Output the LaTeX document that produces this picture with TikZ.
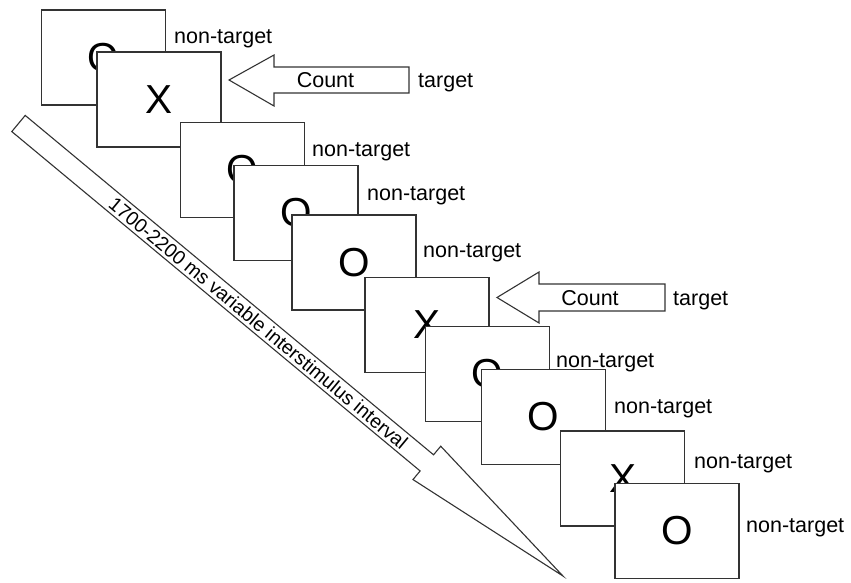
\documentclass[tikz,border=0pt]{standalone}
\usepackage{fontspec}
\setmainfont{Liberation Sans}
\begin{document}
\begin{tikzpicture}[x=1pt,y=-1pt,
  frame/.style={draw=black!80, line width=1.1pt, fill=white,
    minimum width=124pt, minimum height=95pt, inner sep=0pt,
    font=\fontsize{40.5}{44}\selectfont},
  lab/.style={anchor=base west, inner sep=0pt, font=\fontsize{21.5}{24}\selectfont},
  blockarrow/.style={draw=black!80, line width=1.1pt, fill=white, line join=miter}]
\useasboundingbox (0,0) rectangle (851,583);

% time axis arrow
\begin{scope}[shift={(18.5,123.5)}, rotate=-39.73]
  \draw[blockarrow] (0,-10.5) -- (531,-10.5) -- (531,-21.7) -- (708,0)
    -- (531,21.7) -- (531,10.5) -- (0,10.5) -- cycle;
  \node[rotate=-39.73, inner sep=0pt, font=\fontsize{19.5}{22}\selectfont] (isi) at (312,0)
    {1700-2200 ms variable interstimulus interval};
\end{scope}

% stimulus frames, each covering part of the previous one
\node[frame] (b1)  at (103.5,57.5) {O};
\node[frame] (b2)  at (159,99.5)   {X};
\node[frame] (b3)  at (242.5,170)  {O};
\node[frame] (b4)  at (296,213)    {O};
\node[frame] (b5)  at (354,262.5)  {O};
\node[frame] (b6)  at (427,325)    {X};
\node[frame] (b7)  at (487.5,374)  {O};
\node[frame] (b8)  at (543.5,417)  {O};
\node[frame] (b9)  at (622.5,478.5){X};
\node[frame] (b10) at (677,531)    {O};

% stimulus labels (placed on their baselines)
\node[lab] (l1)  at (174,44)  {non-target};
\node[lab] (l3)  at (312,157) {non-target};
\node[lab] (l4)  at (367,200) {non-target};
\node[lab] (l5)  at (423,257) {non-target};
\node[lab] (l7)  at (556,367) {non-target};
\node[lab] (l8)  at (614,413) {non-target};
\node[lab] (l9)  at (694,468) {non-target};
\node[lab] (l10) at (746,532) {non-target};

% count pointers for the targets
\draw[blockarrow] (229,80) -- (274,55) -- (274,67) -- (409,67) -- (409,93)
  -- (274,93) -- (274,106) -- cycle;
\node[lab, anchor=base] (c1) at (325.5,87.5) {Count};
\node[lab] (t1) at (418,87.5) {target};

\draw[blockarrow] (497,297.5) -- (539,272) -- (539,284) -- (665,284) -- (665,311)
  -- (539,311) -- (539,323) -- cycle;
\node[lab, anchor=base] (c2) at (590,305) {Count};
\node[lab] (t2) at (673,305) {target};
\end{tikzpicture}
\end{document}
